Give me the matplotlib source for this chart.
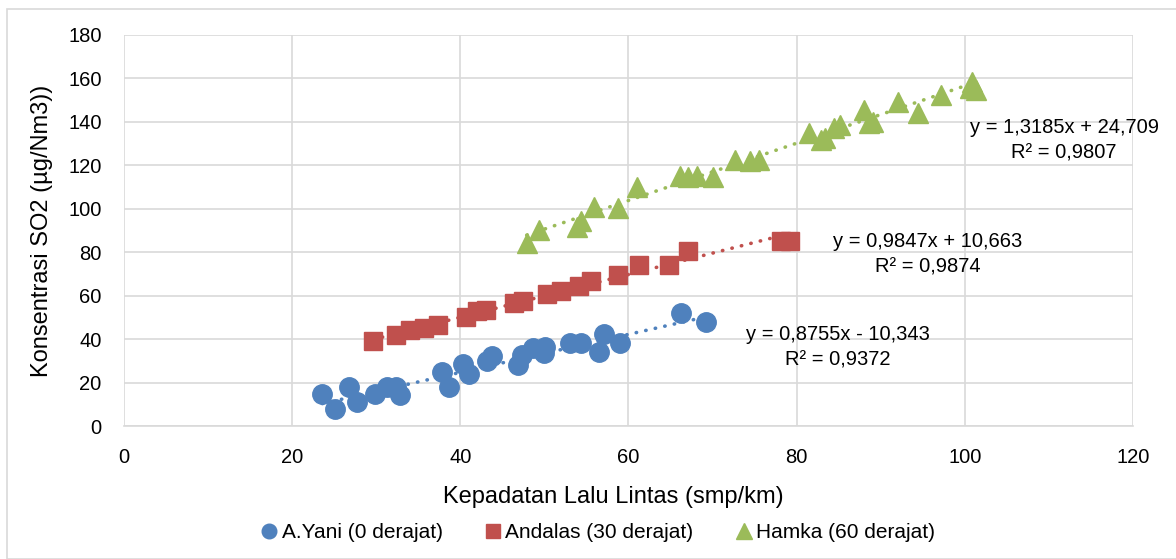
import numpy as np
import matplotlib.pyplot as plt
from matplotlib.patches import Rectangle

plt.rcParams['font.family'] = ['Liberation Sans', 'DejaVu Sans']

# A.Yani (0 derajat)
yani_x = [23.6, 25.1, 26.8, 27.7, 29.9, 31.3, 32.3, 32.8, 37.8, 38.6, 40.3, 41.0,
          43.2, 43.8, 46.9, 47.3, 48.7, 49.9, 50.1, 53.1, 54.3, 56.5, 57.1, 59.0,
          66.2, 69.2]
yani_y = [14.7, 7.8, 18.1, 11.2, 14.7, 17.8, 18.1, 14.3, 25.0, 18.1, 28.5, 23.9,
          30.0, 32.0, 28.1, 32.7, 35.8, 33.5, 36.5, 38.3, 38.1, 34.2, 42.2, 38.3,
          51.9, 48.0]

# Andalas (30 derajat)
andalas_x = [29.6, 32.3, 34.0, 35.7, 37.4, 40.7, 42.0, 43.0, 46.4, 47.4, 50.3, 52.0,
             54.1, 55.6, 58.7, 61.2, 64.8, 67.1, 78.2, 79.2]
andalas_y = [39.0, 42.1, 44.0, 45.2, 46.7, 50.2, 52.9, 53.6, 56.4, 57.5, 61.0, 62.3,
             64.3, 66.7, 69.7, 74.3, 74.3, 80.5, 85.1, 85.1]

# Hamka (60 derajat)
hamka_x = [47.9, 49.4, 53.9, 54.3, 55.9, 58.8, 61.0, 66.1, 67.1, 68.1, 70.0, 72.7,
           74.5, 75.5, 81.5, 82.9, 83.4, 84.4, 85.2, 88.0, 88.6, 89.1, 92.1, 94.4,
           97.2, 100.9, 100.6, 101.3]
hamka_y = [84.1, 90.2, 91.8, 94.5, 101.0, 100.2, 110.2, 114.9, 114.6, 114.9, 114.6, 122.3,
           122.0, 122.3, 135.0, 131.7, 132.5, 137.1, 138.6, 145.5, 139.4, 139.8, 149.0, 144.0,
           152.4, 158.5, 155.5, 154.7]

# trendline coefficients (slope, intercept) as shown on the chart
trend_yani = (0.8755, -10.343)
trend_andalas = (0.9847, 10.663)
trend_hamka = (1.3185, 24.709)

labels = ['A.Yani (0 derajat)', 'Andalas (30 derajat)', 'Hamka (60 derajat)']
colors = ['#4F81BD', '#C0504D', '#9BBB59']

fig = plt.figure(figsize=(11.76, 5.59), dpi=100)
fig.patches.append(Rectangle((7 / 1176, 0), 1.0, 1 - 9 / 559, transform=fig.transFigure,
                             fill=False, edgecolor='#D9D9D9', linewidth=1.2))
ax = fig.add_axes([0.1054, 0.2379, 0.8580, 0.6995])

series = [
    (yani_x, yani_y, trend_yani, 'o', 14),
    (andalas_x, andalas_y, trend_andalas, 's', 13),
    (hamka_x, hamka_y, trend_hamka, '^', 15),
]
for (xs, ys, (m, b), mk, ms), lab, col in zip(series, labels, colors):
    xs = np.array(xs)
    tx = np.array([xs.min(), xs.max()])
    ax.plot(tx, m * tx + b, color=col, linewidth=2.6, linestyle=(0, (0.1, 2.6)),
            dash_capstyle='round', zorder=2)
    ax.plot(xs, ys, linestyle='none', marker=mk, markersize=ms, color=col,
            markeredgecolor=col, label=lab, zorder=3)

ax.set_xlim(0, 120)
ax.set_ylim(0, 180)
ax.set_xticks(np.arange(0, 121, 20))
ax.set_yticks(np.arange(0, 181, 20))
ax.grid(True, color='#D9D9D9', linewidth=1.2)
ax.set_axisbelow(True)
for s in ['top', 'right', 'left']:
    ax.spines[s].set_visible(False)
ax.spines['bottom'].set_color('#D9D9D9')
ax.spines['bottom'].set_linewidth(1.2)
ax.tick_params(length=0, labelsize=14.5, colors='black')
ax.tick_params(axis='y', pad=16)
ax.tick_params(axis='x', pad=16)

ax.set_xlabel('Kepadatan Lalu Lintas (smp/km)', fontsize=17)
ax.set_ylabel('Konsentrasi SO2 (µg/Nm3))', fontsize=17)
ax.xaxis.set_label_coords(0.4846, -0.182)
ax.xaxis.label.set_va('center')
ax.yaxis.set_label_coords(-0.0813, 0.50)
ax.yaxis.label.set_va('center')

def eq_label(x, y, m, b, r2):
    sign = '+' if b >= 0 else '-'
    txt = f'y = {m:.4f}x {sign} {abs(b):.3f}'.replace('.', ',')
    txt += '\n' + f'R² = {r2:.4f}'.replace('.', ',')
    ax.text(x, y, txt, fontsize=14.5, ha='center', va='center', multialignment='center',
            linespacing=1.45)

eq_label(84.9, 36.2, *trend_yani, 0.9372)
eq_label(95.6, 79.2, *trend_andalas, 0.9874)
eq_label(111.8, 131.4, *trend_hamka, 0.9807)

ax.legend(loc='center', bbox_to_anchor=(0.5077, 1 - 533 / 559),
          bbox_transform=fig.transFigure, ncol=3, frameon=False,
          fontsize=15, handletextpad=0.1, columnspacing=1.9, markerscale=0.75,
          handlelength=1.0)

fig.savefig('out.png', dpi=100)
